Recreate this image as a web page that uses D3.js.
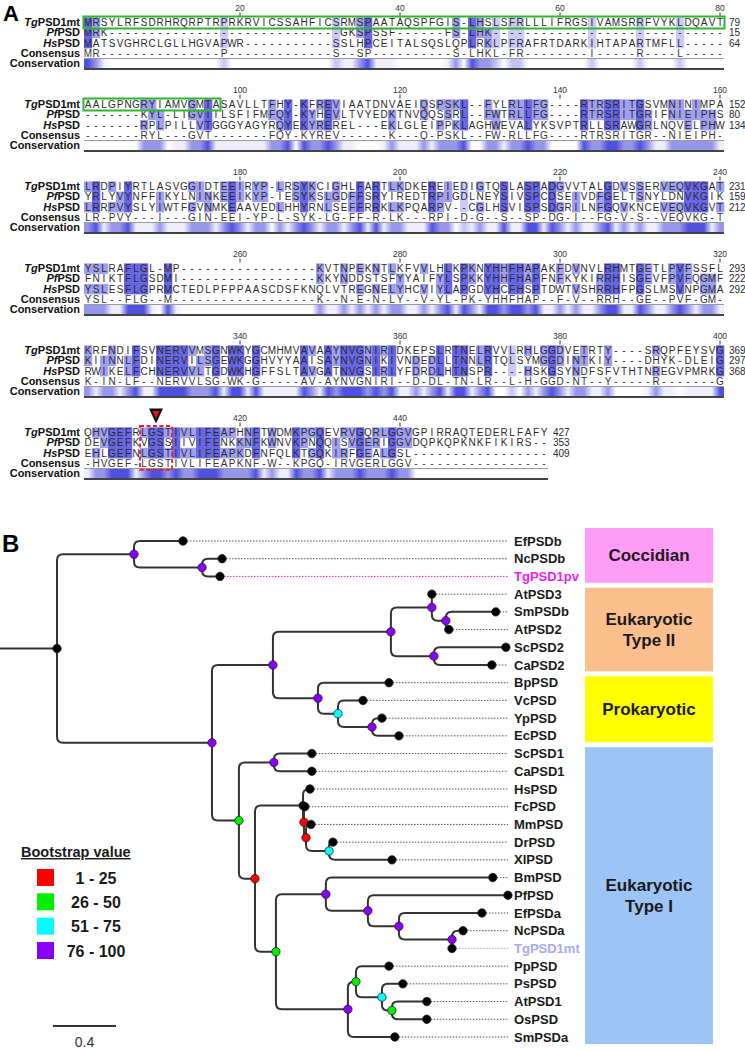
<!DOCTYPE html>
<html><head><meta charset="utf-8">
<script src="https://cdn.jsdelivr.net/npm/d3@7"></script>
<style>body{margin:0;background:#fff}svg{display:block}</style>
</head><body>
<svg id="c" width="745" height="1050"></svg>
<script>
// ---------------- DATA ----------------
const seqKeys = ["Tg","Pf","Hs"];
const seqLabels = [["Tg","PSD1mt"],["Pf","PSD"],["Hs","PSD"]];
const blockStarts = [1,81,161,241,321,401];
const tgBlocks = [
 "MRSYLRFSDRHRQRPTRPRKRVICSSAHFICSRMSPAATAQSPFGIS-LHSLSFRLLLIFRGSIVAMSRRFVYKLDQAVT",
 "AALGPNGRYIAMVGMTASAVLLTFHY-KFREVIAATDNVAEIQSPSKL--FYLRLLFG----RTRSRITGSVMNINIMPA",
 "LRDPIYRTLASVGGIDTEEIRYP-LRSYKCIGHLFARTLKDKEREIEDIGTQSLASPADGVVTALGDVSSERVEQVKGAT",
 "YSLRAFLGL-MP" + "-".repeat(17) + "KVTNPEKNTLKFVVLHLKPKNYHHFHAPAKFDVNVLRHMTGETLPVFSSFL",
 "KRFNDIFSVNERVVMSGNWKYGCMHMVAVAAYNVGNIRIDKEPSLRTNELRVVLRHLGGDVETRTY----SRQPFEYSVG",
 "QHVGEFRLGSTIVLIFEAPHNFTWDMKPGQEVRVGQRLGGVGPIRRAQTEDERLFAFY"];
const pfBlocks = [
 "MRK" + "-".repeat(29) + "GKSPSSF------FS-LHK" + "-".repeat(29),
 "-------KYL-LTGVTILSFIFMFQY-KYHEVLTVYEDKTNVQQSSRL--FWTRLLFG----RTRSRITGRIFNIEIPHS",
 "YRLYVYNFFIKYLNINKEEIKYP-IESYKSLGDFFSRYIREDTRPIGDLNEYSIVSPCDSEIVDFGELTSNYLDNVKGIK",
 "FNIKTFLGSDMI" + "-".repeat(17) + "KKYNDDSTSFYYAIFYLSPKKYHHFHAPFNFKYKIRRHISGEVFPVFQGMF",
 "KIINNLFDINERVILSGEWKGGHVYYAAISAYNVGNIKIVNDEDLLTNNLRTQLSYMGGDINTKIY----DHYK-DLEIG",
 "DEVGEFKVGSSIIVIFENKKNFKWNVKPNQQISVGERIGGVDQPKQPKNKFIKIRS--"];
const hsBlocks = [
 "MATSVGHRCLGLLHGVAPWR" + "-".repeat(11) + "SSLHPCEITALSQSLQPLRKLPFRAFRTDARKIHTAPARTMFLL-----",
 "-------RPLPILLVTGGGYAGYRQYEKYREREL---EKLGLEIPPKLAGHWEVALYKSVPTRLLSRAWGRLNQVELPHW",
 "LRRPVYSLYIWTFGVNMKEAAVEDLHHYRNLSEFFRRKLKPQARPV--CGLHSVISPSDGRILNFGQVKNCEVEQVKGVT",
 "YSLESFLGPRMCTEDLPFPPAASCDSFKNQLVTREGNELYHCVIYLAPGDYHCFHSPTDWTVSHRRHFPGSLMSVNPGMA",
 "RWIKELFCHNERVVLTGDWKHGFFSLTAVGATNVGSIRIYFDRDLHTNSPR----HSKGSYNDFSFVTHTNREGVPMRKG",
 "EHLGEFNLGSTIVLIFEAPKDFNFQLKTGQKIRFGEALGSL" + "-".repeat(17)];
const tgEnds = [79,152,231,293,369,427];
const pfEnds = [15,80,159,222,297,353];
const hsEnds = [64,134,212,292,368,409];
const rulerTicks = [[20,40,60,80],[100,120,140,160],[180,200,220,240],[260,280,300,320],[340,360,380,400],[420,440]];
const greenBoxCols = [[1,80],[1,17]];          // TgPSD1mt targeting region, blocks 1-2
const redBoxCols = [8,11];                      // block 6 LGST motif
// Tree (Newick; internal labels = bootstrap class 0 none,1:1-25,2:26-50,3:51-75,4:76-100)
const newick = "((EfPSDb:0.311,(NcPSDb:0.127,TgPSD1pv:0.114)4:0.432)4:0.489,((((AtPSD3:0.0,(SmPSDb:0.317,AtPSD2:0.019)4:0.089)4:0.260,(ScPSD2:0.457,CaPSD2:0.368)4:0.273)4:0.749,(BpPSD:0.451,(VcPSD:0.159,(YpPSD:0.063,EcPSD:0.171)4:0.216)3:0.127)4:0.286)4:0.387,((ScPSD1:0.241,CaPSD1:0.241)4:0.222,((HsPSD:0.044,(FcPSD:0.006,(MmPSD:0.032,(DrPSD:0.025,XlPSD:0.4)3:0.146)1:0.013)1:0.006)0:0.305,((BmPSD:1.06,(PfPSD:0.889,(EfPSDa:0.527,(NcPSDa:0.07,TgPSD1mt:0.0)4:0.337)4:0.197)4:0.267)4:0.317,((PpPSD:0.21,(PsPSD:0.133,(AtPSD1:0.222,OsPSD:0.222)2:0.063)3:0.165)2:0.051,SmPSDa:0.298)4:0.457)2:0.133)1:0.102)2:0.171)4:0.984)0;";
const leafOrder = ["EfPSDb","NcPSDb","TgPSD1pv","AtPSD3","SmPSDb","AtPSD2","ScPSD2","CaPSD2","BpPSD","VcPSD","YpPSD","EcPSD","ScPSD1","CaPSD1","HsPSD","FcPSD","MmPSD","DrPSD","XlPSD","BmPSD","PfPSD","EfPSDa","NcPSDa","TgPSD1mt","PpPSD","PsPSD","AtPSD1","OsPSD","SmPSDa"];
const highlightLeaves = {TgPSD1pv:"#ee22ee", TgPSD1mt:"#a8a8f6"};
const groupNames = [["Coccidian"],["Eukaryotic","Type II"],["Prokaryotic"],["Eukaryotic","Type I"]];
const groupFirst = ["EfPSDb","AtPSD3","BpPSD","ScPSD1"];
const groupLast  = ["TgPSD1pv","CaPSD2","EcPSD","SmPSDa"];
const groupColors = ["#ff9cf8","#fbbf8e","#ffff00","#9cc4f4"];
const bootClasses = ["1","2","3","4"];
const bootLabels = ["1 - 25","26 - 50","51 - 75","76 - 100"];
const bootColors = {"0":"#000000","1":"#ff0000","2":"#00ee00","3":"#00ffff","4":"#8a00ff"};
const scaleBarValue = 0.4;

// ---------------- DRAW ----------------
const svg = d3.select("#c");
const seqFont = "'Liberation Sans', Arial, sans-serif";
const narrow = "'Liberation Sans Narrow','Liberation Sans', Arial, sans-serif";

svg.append("text").attr("x",3).attr("y",21).text("A")
  .attr("font-family",seqFont).attr("font-weight","bold").attr("font-size",22);

const colX = d3.scaleBand().domain(d3.range(80)).range([84,724]);
const cw = colX.bandwidth();
const blockY = d3.scaleLinear().domain([0,5]).range([22.5,432.5]);
const rowKeys = ["Tg","Pf","Hs","Consensus","Conservation"];
const rowOff = d3.scalePoint().domain(rowKeys).range([0,41]);
const rh = rowOff.step();
const shade = {dark:"#6767e6", mid:"#a0a0f0", light:"#cbcbf6"};
const consColor = d3.interpolateRgb("#ffffff","#5050e0");

blockStarts.forEach((start,b)=>{
  const seqs = [tgBlocks[b],pfBlocks[b],hsBlocks[b]];
  const ends = [tgEnds[b],pfEnds[b],hsEnds[b]];
  const n = seqs[0].length;
  const ty = blockY(b);
  const g = svg.append("g");
  const cols = d3.range(n).map(i=>{
    const chars = seqs.map(s=>s[i]);
    const counts = d3.rollup(chars.filter(c=>c!=="-"), v=>v.length, c=>c);
    let best=null, bc=0;
    counts.forEach((v,k)=>{ if(v>bc){bc=v;best=k;} });
    const hasGap = chars.includes("-");
    let level=null, val=0;
    if(bc===3){level="dark";val=1;}
    else if(bc===2 && !hasGap){level="mid";val=0.6;}
    else if(bc===2 && hasGap){level="light";val=0.35;}
    else if(!hasGap){val=0.1;}
    return {chars, cons: bc>=2?best:"-", level, val, best, hasGap};
  });
  cols.forEach((c,i)=>{
    if(!c.level) return;
    c.chars.forEach((ch,r)=>{
      if(ch===c.best || (c.level==="light")){
        g.append("rect").attr("x",colX(i)).attr("y",ty+rowOff(rowKeys[r])-rh/2)
          .attr("width",cw+0.3).attr("height",rh+0.3).attr("fill",shade[c.level]);
      }
    });
  });
  const endX = colX(n-1)+cw+5;
  seqs.forEach((s,r)=>{
    const y = ty+rowOff(rowKeys[r])+3.6;
    g.selectAll(null).data(s.split("")).join("text")
      .attr("x",(d,i)=>colX(i)+cw/2).attr("y",y).attr("text-anchor","middle")
      .attr("font-family",seqFont).attr("font-size",10).attr("fill","#2a2a2a").text(d=>d);
    g.append("text").attr("x",endX).attr("y",y).attr("font-family",seqFont)
      .attr("font-size",10).attr("fill","#2a2a2a").text(ends[r]);
    const lab = g.append("text").attr("x",80).attr("y",y).attr("text-anchor","end")
      .attr("font-family",narrow).attr("font-weight","bold").attr("font-size",11).attr("fill","#111");
    lab.append("tspan").attr("font-style","italic").text(seqLabels[r][0]);
    lab.append("tspan").text(seqLabels[r][1]);
  });
  const cy = ty+rowOff("Consensus")+3.6;
  g.selectAll(null).data(cols).join("text")
    .attr("x",(d,i)=>colX(i)+cw/2).attr("y",cy).attr("text-anchor","middle")
    .attr("font-family",seqFont).attr("font-size",10).attr("fill","#333").text(d=>d.cons);
  g.append("text").attr("x",80).attr("y",cy).attr("text-anchor","end")
    .attr("font-family",narrow).attr("font-weight","bold").attr("font-size",11).attr("fill","#111").text("Consensus");
  const by = ty+rowOff("Conservation");
  const gid = "cg"+b;
  const grad = svg.append("defs").append("linearGradient").attr("id",gid)
    .attr("x1",0).attr("x2",1).attr("y1",0).attr("y2",0);
  cols.forEach((c,i)=>grad.append("stop").attr("offset",(i+0.5)/n).attr("stop-color",consColor(c.val)));
  g.append("rect").attr("x",colX(0)).attr("y",by-5).attr("width",n*cw).attr("height",10).attr("fill",`url(#${gid})`);
  g.append("line").attr("x1",colX(0)).attr("x2",colX(0)+n*cw).attr("y1",by-5).attr("y2",by-5)
    .attr("stroke","#999").attr("stroke-width",1);
  g.append("line").attr("x1",colX(0)).attr("x2",colX(0)+n*cw).attr("y1",by+5.5).attr("y2",by+5.5)
    .attr("stroke","#444").attr("stroke-width",2);
  g.append("text").attr("x",80).attr("y",by+3.6).attr("text-anchor","end")
    .attr("font-family",narrow).attr("font-weight","bold").attr("font-size",11).attr("fill","#111").text("Conservation");
  rulerTicks[b].forEach(t=>{
    const x = colX(t-start)+cw/2;
    g.append("text").attr("x",x).attr("y",ty-12).attr("text-anchor","middle")
      .attr("font-family",seqFont).attr("font-size",8.5).attr("fill","#333").text(t);
    g.append("line").attr("x1",x).attr("x2",x).attr("y1",ty-10).attr("y2",ty-6)
      .attr("stroke","#333").attr("stroke-width",1);
  });
  if(greenBoxCols[b]){
    const [c0,c1] = greenBoxCols[b];
    g.append("rect").attr("x",colX(c0-1)-0.5).attr("y",ty-6).attr("width",(c1-c0+1)*cw+1).attr("height",12)
      .attr("fill","none").attr("stroke","#2fb52f").attr("stroke-width",2);
  }
  if(b===5){
    const x0 = colX(redBoxCols[0]-1), x1 = colX(redBoxCols[1]-1)+cw;
    g.append("rect").attr("x",x0).attr("y",ty-6.5).attr("width",x1-x0).attr("height",rowOff("Consensus")+13)
      .attr("fill","none").attr("stroke","#e8202a").attr("stroke-width",1.8).attr("stroke-dasharray","4,2.5");
    const xc=(x0+x1)/2;
    g.append("path").attr("d",`M${xc-7},${ty-24}L${xc+7},${ty-24}L${xc},${ty-9}Z`).attr("fill","#111");
    g.append("path").attr("d",`M${xc-3.5},${ty-21.5}L${xc+3.5},${ty-21.5}L${xc},${ty-14}Z`).attr("fill","#e01818");
  }
});

// ---------------- PANEL B ----------------
svg.append("text").attr("x",2).attr("y",552).text("B")
  .attr("font-family",seqFont).attr("font-weight","bold").attr("font-size",24);

function parseNewick(s){
  let i=0;
  function node(){
    const n={};
    const kids=[];
    if(s[i]==="("){
      i++; kids.push(node());
      while(s[i]===","){i++;kids.push(node());}
      i++;
    }
    let name="";
    while(i<s.length && !":,);".includes(s[i])) name+=s[i++];
    n.name=name;
    if(s[i]===":"){i++;let num="";while(i<s.length && !",);".includes(s[i])) num+=s[i++]; n.length=+num;}
    else n.length=0;
    if(kids.length) n.children=kids;
    return n;
  }
  return node();
}
const root = d3.hierarchy(parseNewick(newick));
const xT = d3.scaleLinear().domain([0,1]).range([57,214.5]);
const yT = d3.scalePoint().domain(leafOrder).range([541,1037]);
root.eachBefore(d=>{ d.dist = d.parent ? d.parent.dist + d.data.length : 0; d.px = xT(d.dist); });
root.eachAfter(d=>{
  if(!d.children) d.py = yT(d.data.name);
  else d.py = (d.children[0].py + d.children[d.children.length-1].py)/2;
});

const gb = svg.append("g");
groupNames.forEach((nm,i)=>{
  const top = i===0 ? yT(groupFirst[i])-13 : (yT(groupLast[i-1])+yT(groupFirst[i]))/2+2.5;
  const bot = i===groupNames.length-1 ? yT(groupLast[i])+7 : (yT(groupLast[i])+yT(groupFirst[i+1]))/2-2.5;
  gb.append("rect").attr("x",585).attr("y",top).attr("width",128).attr("height",bot-top).attr("fill",groupColors[i]);
  const mid=(top+bot)/2;
  nm.forEach((line,k)=>{
    gb.append("text").attr("x",649).attr("y",mid+6+(k-(nm.length-1)/2)*21).attr("text-anchor","middle")
      .attr("font-family",seqFont).attr("font-weight","bold").attr("font-size",17).attr("fill","#1a1a1a").text(line);
  });
});

const leaves = root.leaves();
const tg = svg.append("g");
leaves.forEach(l=>{
  const col = highlightLeaves[l.data.name];
  tg.append("line").attr("x1",l.px+4).attr("x2",508).attr("y1",l.py).attr("y2",l.py)
    .attr("stroke",col||"#555").attr("stroke-width",1).attr("stroke-dasharray","1.5,1.5");
  tg.append("text").attr("x",514).attr("y",l.py+4.5).attr("font-family",seqFont).attr("font-weight","bold")
    .attr("font-size",13).attr("fill",col||"#1a1a1a").text(l.data.name);
});
tg.append("line").attr("x1",0).attr("x2",root.px).attr("y1",root.py).attr("y2",root.py)
  .attr("stroke","#333").attr("stroke-width",2);
root.links().forEach(({source:p,target:c})=>{
  const dy=c.py-p.py, dir=Math.sign(dy);
  let d;
  const r=Math.min(6,Math.abs(dy),c.px-p.px);
  if(Math.abs(dy)<0.5) d=`M${p.px},${p.py}H${c.px}`;
  else if(r<=0.5) d=`M${p.px},${p.py}V${c.py}H${c.px}`;
  else d=`M${p.px},${p.py}V${c.py-dir*r}Q${p.px},${c.py} ${p.px+r},${c.py}H${c.px}`;
  tg.append("path").attr("d",d).attr("fill","none").attr("stroke","#333").attr("stroke-width",2);
});
root.descendants().forEach(d=>{
  const fill = d.children ? bootColors[d.data.name] : "#000";
  tg.append("circle").attr("cx",d.px).attr("cy",d.py).attr("r",4.2).attr("fill",fill)
    .attr("stroke","#222").attr("stroke-width",0.8);
});

const lg = svg.append("g");
lg.append("text").attr("x",21).attr("y",857).attr("font-family",seqFont).attr("font-weight","bold")
  .attr("font-size",14.5).attr("fill","#1a1a1a").attr("text-decoration","underline").text("Bootstrap value");
const ly = d3.scalePoint().domain(bootClasses).range([877.5,950.5]);
bootClasses.forEach((c,i)=>{
  lg.append("rect").attr("x",37).attr("y",ly(c)-8.5).attr("width",17).attr("height",17).attr("fill",bootColors[c]);
  lg.append("text").attr("x",96).attr("y",ly(c)+6).attr("text-anchor","middle").attr("font-family",seqFont)
    .attr("font-weight","bold").attr("font-size",16).attr("fill","#1a1a1a").text(bootLabels[i]);
});
const sx0 = 53;
lg.append("line").attr("x1",sx0).attr("x2",sx0+xT(scaleBarValue)-xT(0)).attr("y1",1026).attr("y2",1026)
  .attr("stroke","#333").attr("stroke-width",2);
lg.append("text").attr("x",sx0+(xT(scaleBarValue)-xT(0))/2).attr("y",1047).attr("text-anchor","middle")
  .attr("font-family",seqFont).attr("font-size",14).attr("fill","#333").text(scaleBarValue);
</script>
</body></html>
